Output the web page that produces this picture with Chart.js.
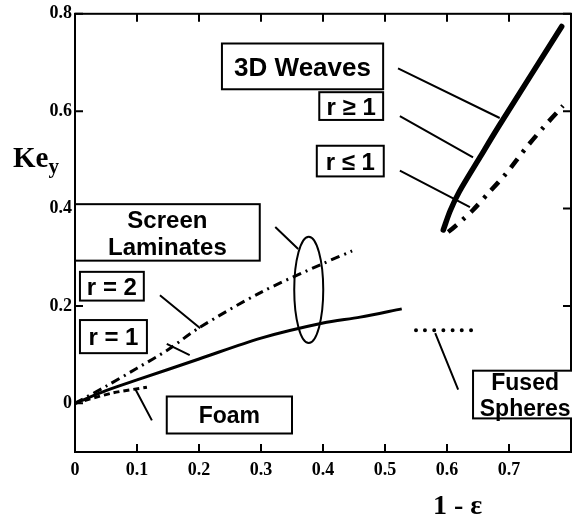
<!DOCTYPE html>
<html>
<head>
<meta charset="utf-8">
<script src="https://cdn.jsdelivr.net/npm/chart.js@4/dist/chart.umd.min.js"></script>
<style>
html, body { margin: 0; padding: 0; background: #fff; }
</style>
</head>
<body>
<canvas id="chart" width="572" height="522"></canvas>
<script>
const xTicks = [0, 0.1, 0.2, 0.3, 0.4, 0.5, 0.6, 0.7];
const yTicks = [0, 0.2, 0.4, 0.6, 0.8];

// [1 - eps, Key] pairs
const laminateR1 = [[0, 0], [0.05, 0.026], [0.1, 0.048], [0.2, 0.091], [0.3, 0.134], [0.4, 0.165], [0.46, 0.177], [0.527, 0.194]];
const laminateR2 = [[0, 0], [0.05, 0.035], [0.1, 0.072], [0.15, 0.11], [0.2, 0.155], [0.3, 0.228], [0.4, 0.287], [0.447, 0.313]];
const foam = [[0, 0], [0.06, 0.021], [0.116, 0.033]];
const fusedSpheres = [[0.55, 0.15], [0.653, 0.15]];
const weavesRGe1 = [[0.594, 0.356], [0.605, 0.395], [0.62, 0.435], [0.653, 0.505], [0.685, 0.572], [0.785, 0.774]];
const weavesRLe1 = [[0.602, 0.352], [0.608, 0.358], [0.626, 0.378], [0.642, 0.397], [0.669, 0.435], [0.694, 0.47], [0.729, 0.527], [0.755, 0.566], [0.787, 0.611]];

// callouts, in axis units
const labels = [
    { box: [0.237, 0.739, 0.497, 0.645], lines: ['3D Weaves'], size: 26 },
    { box: [0.394, 0.639, 0.497, 0.582], lines: ['r \u2265 1'], size: 24 },
    { box: [0.390, 0.529, 0.498, 0.466], lines: ['r \u2264 1'], size: 24 },
    { box: [0.0, 0.409, 0.298, 0.293], lines: ['Screen', 'Laminates'], size: 24 },
    { box: [0.008, 0.270, 0.111, 0.211], lines: ['r = 2'], size: 24 },
    { box: [0.008, 0.171, 0.116, 0.103], lines: ['r = 1'], size: 24 },
    { box: [0.148, 0.014, 0.35, -0.062], lines: ['Foam'], size: 23 },
    { box: [0.642, 0.067, 0.81, -0.031], lines: ['Fused', 'Spheres'], size: 23 }
];
const leaders = [
    [[0.521, 0.688], [0.685, 0.586]],
    [[0.524, 0.590], [0.642, 0.505]],
    [[0.524, 0.478], [0.637, 0.403]],
    [[0.323, 0.362], [0.360, 0.317]],
    [[0.137, 0.222], [0.202, 0.154]],
    [[0.148, 0.122], [0.185, 0.099]],
    [[0.097, 0.030], [0.124, -0.035]],
    [[0.581, 0.144], [0.618, 0.028]]
];
const ring = { x: 0.377, y: 0.233, rx: 0.0234, ry: 0.109 };

const toPoints = arr => arr.map(([x, y]) => ({ x, y }));

function series(data, width, dash, cap) {
    return {
        data: toPoints(data),
        borderColor: '#000',
        borderWidth: width,
        borderDash: dash || [],
        borderCapStyle: cap || 'butt',
        borderJoinStyle: 'round',
        pointRadius: 0,
        tension: 0.3,
        fill: false
    };
}

const overlay = {
    id: 'overlay',
    afterDatasetsDraw(chart) {
        const { ctx, chartArea: a, scales: { x, y } } = chart;
        const px = v => x.getPixelForValue(v);
        const py = v => y.getPixelForValue(v);
        ctx.save();
        ctx.strokeStyle = '#000';
        ctx.fillStyle = '#000';
        ctx.lineWidth = 2;
        ctx.setLineDash([]);

        ctx.strokeRect(a.left, a.top, a.right - a.left, a.bottom - a.top);
        ctx.beginPath();
        xTicks.forEach(v => {
            const p = px(v);
            ctx.moveTo(p, a.bottom); ctx.lineTo(p, a.bottom - 8);
            ctx.moveTo(p, a.top); ctx.lineTo(p, a.top + 8);
        });
        yTicks.forEach(v => {
            const p = py(v);
            ctx.moveTo(a.left, p); ctx.lineTo(a.left + 8, p);
            ctx.moveTo(a.right, p); ctx.lineTo(a.right - 8, p);
        });
        ctx.stroke();

        ctx.beginPath();
        ctx.ellipse(px(ring.x), py(ring.y), px(ring.x + ring.rx) - px(ring.x),
            py(ring.y) - py(ring.y + ring.ry), 0, 0, Math.PI * 2);
        ctx.stroke();

        ctx.beginPath();
        leaders.forEach(([p, q]) => {
            ctx.moveTo(px(p[0]), py(p[1]));
            ctx.lineTo(px(q[0]), py(q[1]));
        });
        ctx.stroke();

        ctx.textAlign = 'center';
        ctx.textBaseline = 'alphabetic';
        labels.forEach(l => {
            const x0 = px(l.box[0]), y0 = py(l.box[1]), x1 = px(l.box[2]), y1 = py(l.box[3]);
            ctx.fillStyle = '#fff';
            ctx.fillRect(x0, y0, x1 - x0, y1 - y0);
            ctx.strokeRect(x0, y0, x1 - x0, y1 - y0);
            ctx.fillStyle = '#000';
            ctx.font = `bold ${l.size}px "Liberation Sans", Arial, sans-serif`;
            const step = l.size + 3;
            const cx = (x0 + x1) / 2, cy = (y0 + y1) / 2;
            l.lines.forEach((t, i) => {
                const ly = cy + (i - (l.lines.length - 1) / 2) * step;
                ctx.fillText(t, cx, ly + l.size * 0.36);
            });
        });

        ctx.textAlign = 'left';
        ctx.font = 'bold 29px "Liberation Serif", serif';
        ctx.fillText('Ke', 13, 167);
        const w = ctx.measureText('Ke').width;
        ctx.font = 'bold 21px "Liberation Serif", serif';
        ctx.fillText('y', 13 + w, 173);

        ctx.font = 'bold 28px "Liberation Serif", serif';
        ctx.fillText('1 - \u03b5', 433, 514);
        ctx.restore();
    }
};

const tickFont = { family: '"Liberation Serif", serif', size: 18, weight: 'bold' };

new Chart(document.getElementById('chart').getContext('2d'), {
    type: 'line',
    data: {
        datasets: [
            series(laminateR1, 3),
            series(laminateR2, 3, [9, 5, 2, 5]),
            series(foam, 3, [6, 4]),
            series(fusedSpheres, 4, [0, 9.14], 'round'),
            series(weavesRGe1, 5.5, [], 'round'),
            series(weavesRLe1, 4.5, [11, 8, 3, 8])
        ]
    },
    options: {
        responsive: false,
        animation: false,
        layout: { padding: { left: 0, right: 1, top: 10, bottom: 0 } },
        plugins: { legend: { display: false }, tooltip: { enabled: false } },
        scales: {
            x: {
                type: 'linear',
                min: 0,
                max: 0.8,
                afterBuildTicks: s => { s.ticks = xTicks.map(v => ({ value: v })); },
                afterFit: s => { s.height = 70; },
                grid: { display: false, drawTicks: false, tickLength: 0 },
                border: { display: false },
                ticks: { color: '#000', font: tickFont, padding: 8, maxRotation: 0, callback: v => String(v) }
            },
            y: {
                type: 'linear',
                min: -0.1,
                max: 0.8,
                afterBuildTicks: s => { s.ticks = yTicks.map(v => ({ value: v })); },
                afterFit: s => { s.width = 75; },
                grid: { display: false, drawTicks: false, tickLength: 0 },
                border: { display: false },
                ticks: { color: '#000', font: tickFont, padding: 3, callback: v => String(v) }
            }
        }
    },
    plugins: [overlay]
});
</script>
</body>
</html>
